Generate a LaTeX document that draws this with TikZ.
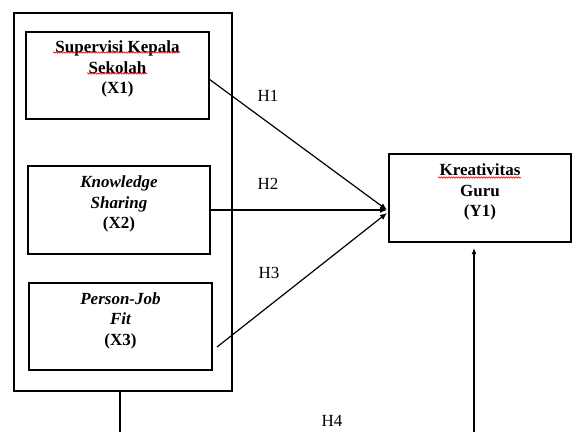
\documentclass[tikz,border=0pt]{standalone}
\usepackage{fontspec}
\setmainfont{Liberation Serif}
\usetikzlibrary{arrows.meta,decorations.pathmorphing,calc}
\begin{document}
\begin{tikzpicture}[x=1pt,y=-1pt,
  box/.style={draw, line width=1.3pt, rectangle, inner sep=0pt, outer sep=0pt},
  txt/.style={anchor=north, align=center, inner sep=0pt, font=\fontsize{17}{20.5}\selectfont},
  hlab/.style={inner sep=0pt, font=\fontsize{17}{20.5}\selectfont},
  conn/.style={line width=1.3pt},
  arr/.style={line width=1.2pt, -{Latex[length=7pt,width=6pt]}},
  squig/.style={draw=red, line width=0.6pt, decorate, decoration={snake, amplitude=0.7pt, segment length=2.5pt}}
]
\useasboundingbox (0,0) rectangle (572,432);

% outer group box
\node[box, line width=1.5pt, minimum width=218pt, minimum height=378pt] (outer) at (123,202) {};

% inner boxes
\node[box, minimum width=183pt, minimum height=87pt] (x1) at (117.5,75.5) {};
\node[box, minimum width=182pt, minimum height=88pt] (x2) at (119,210) {};
\node[box, minimum width=183pt, minimum height=87pt] (x3) at (120.5,326.5) {};
\node[box, minimum width=182pt, minimum height=88pt] (y1) at (480,198) {};

% box texts
\node[txt] (tx1) at ([yshift=-8.5pt]x1.north) {\bfseries Supervisi Kepala\\\bfseries Sekolah\\\bfseries (X1)};
\node[txt] (tx2) at ([yshift=-9.5pt]x2.north) {\bfseries\itshape Knowledge\\\bfseries\itshape Sharing\\\bfseries (X2)};
\node[txt] (tx3) at ([yshift=-9pt]x3.north) {\bfseries\itshape Person-Job\\\bfseries\itshape Fit\\\bfseries (X3)};
\node[txt] (ty1) at ([yshift=-9.5pt]y1.north) {\bfseries Kreativitas\\\bfseries Guru\\\bfseries (Y1)};

% spell-check squiggles
\path[squig] (53,52.5) -- (180,52.5);
\path[squig] (87,73.5) -- (147,73.5);
\path[squig] (438,177.5) -- (521,177.5);

% hypothesis labels
\node[hlab] (h1) at (268,96) {H1};
\node[hlab] (h2) at (268,184) {H2};
\node[hlab] (h3) at (269,273) {H3};
\node[hlab] (h4) at (332,421) {H4};

% connectors
\coordinate (tip) at ([xshift=-2pt,yshift=-12pt]y1.west);
\draw[arr] ([yshift=-3.5pt]x1.east) -- (tip);
\draw[arr] (x2.east) -- (tip);
\draw[arr] ([xshift=5pt,yshift=-20.5pt]x3.east) -- ([yshift=-3pt]tip);

\coordinate (b1) at (120,432);
\coordinate (b2) at (474,432);
\draw[conn] (outer.south -| b1) -- (b1);
\draw[arr, -{Latex[length=6pt,width=5pt]}] (b2) -- ([yshift=-6pt]y1.south -| b2);
\end{tikzpicture}
\end{document}
